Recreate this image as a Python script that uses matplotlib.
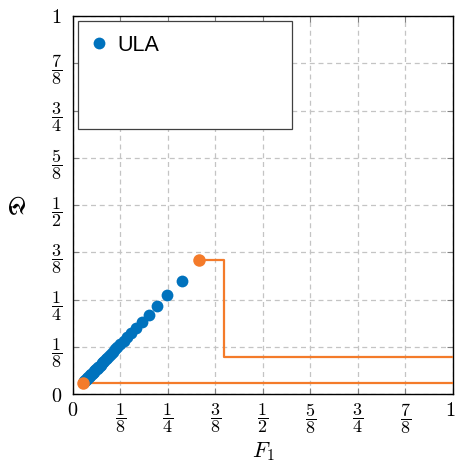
import matplotlib.pyplot as plt
from matplotlib.patches import Rectangle
from matplotlib.lines import Line2D
from matplotlib.transforms import ScaledTranslation

# ULA points (F1, D)
ula_x = [0.286, 0.248, 0.222, 0.199, 0.181, 0.166, 0.153, 0.142, 0.133, 0.125,
         0.117, 0.111, 0.105, 0.100, 0.095, 0.090, 0.086, 0.082, 0.079, 0.076,
         0.073, 0.070, 0.067, 0.065, 0.062, 0.060, 0.058, 0.056, 0.054, 0.052,
         0.050, 0.048, 0.046, 0.044, 0.042, 0.040, 0.038, 0.036, 0.034, 0.032,
         0.030, 0.028]
ula_y = [0.300, 0.262, 0.233, 0.210, 0.191, 0.175, 0.162, 0.150, 0.141, 0.133,
         0.124, 0.118, 0.112, 0.106, 0.101, 0.096, 0.092, 0.088, 0.085, 0.081,
         0.078, 0.075, 0.072, 0.070, 0.067, 0.065, 0.063, 0.060, 0.058, 0.056,
         0.054, 0.052, 0.050, 0.048, 0.046, 0.044, 0.042, 0.040, 0.038, 0.036,
         0.034, 0.031]

# orange step curves
low_x = [0.026, 1.0]
low_y = [0.029, 0.029]
high_x = [0.332, 0.397, 0.397, 1.0]
high_y = [0.354, 0.354, 0.098, 0.098]
orange_pts_x = [0.026, 0.332]
orange_pts_y = [0.029, 0.354]

tick_vals = [0, 1/8, 1/4, 3/8, 1/2, 5/8, 3/4, 7/8, 1]
tick_labels = ["$0$", r"$\dfrac{1}{8}$", r"$\dfrac{1}{4}$", r"$\dfrac{3}{8}$",
               r"$\dfrac{1}{2}$", r"$\dfrac{5}{8}$", r"$\dfrac{3}{4}$",
               r"$\dfrac{7}{8}$", "$1$"]

BLUE = "#0072BD"
ORANGE = "#F47B2A"

plt.rcParams["mathtext.fontset"] = "cm"

fig = plt.figure(figsize=(4.55, 4.61), dpi=100)
ax = fig.add_axes([0.1604, 0.1453, 0.8352, 0.8200])

ax.plot(low_x, low_y, color=ORANGE, lw=1.6, zorder=3)
ax.plot(high_x, high_y, color=ORANGE, lw=1.6, zorder=3)
ax.plot(ula_x, ula_y, "o", color=BLUE, ms=8.5, mec="none", zorder=4)
ax.plot(orange_pts_x, orange_pts_y, "o", color=ORANGE, ms=9, mec="none", zorder=5)

ax.set_xlim(0, 1)
ax.set_ylim(0, 1)
ax.set_xticks(tick_vals)
ax.set_yticks(tick_vals)
ax.set_xticklabels(tick_labels)
ax.set_yticklabels(tick_labels)
for lbl in ax.get_xticklabels() + ax.get_yticklabels():
    lbl.set_fontsize(13 if "frac" in lbl.get_text() else 14.5)
ax.tick_params(direction="in", length=4, width=0.8, color="#808080",
               top=True, right=True, pad=5)
ax.tick_params(axis="y", pad=8)

# keep the last x label inside the canvas
last = ax.get_xticklabels()[-1]
last.set_transform(last.get_transform() + ScaledTranslation(-3 / 100, 0, fig.dpi_scale_trans))

ax.grid(True, color="#c4c4c4", linestyle=(0, (4, 3)), lw=0.9)
ax.set_axisbelow(True)
for s in ax.spines.values():
    s.set_color("black")
    s.set_linewidth(1.0)

ax.set_xlabel("$F_1$", fontsize=16, labelpad=3)
ax.set_ylabel(r"$\mathfrak{D}$", fontsize=17, labelpad=14)

# legend box
ax.add_patch(Rectangle((0.013, 0.701), 0.563, 0.286, transform=ax.transAxes,
                       facecolor="white", edgecolor="#404040", lw=0.9, zorder=6))
handle = Line2D([], [], marker="o", ls="none", color=BLUE, ms=8.5, mec="none")
leg = ax.legend([handle], ["ULA"], loc="upper left", bbox_to_anchor=(0.0, 0.985),
                frameon=False, prop={"family": "Liberation Sans", "size": 15.5},
                handletextpad=0.25, handlelength=1.2, borderaxespad=0.2)
leg.set_zorder(7)

fig.savefig("out.png", dpi=100)
